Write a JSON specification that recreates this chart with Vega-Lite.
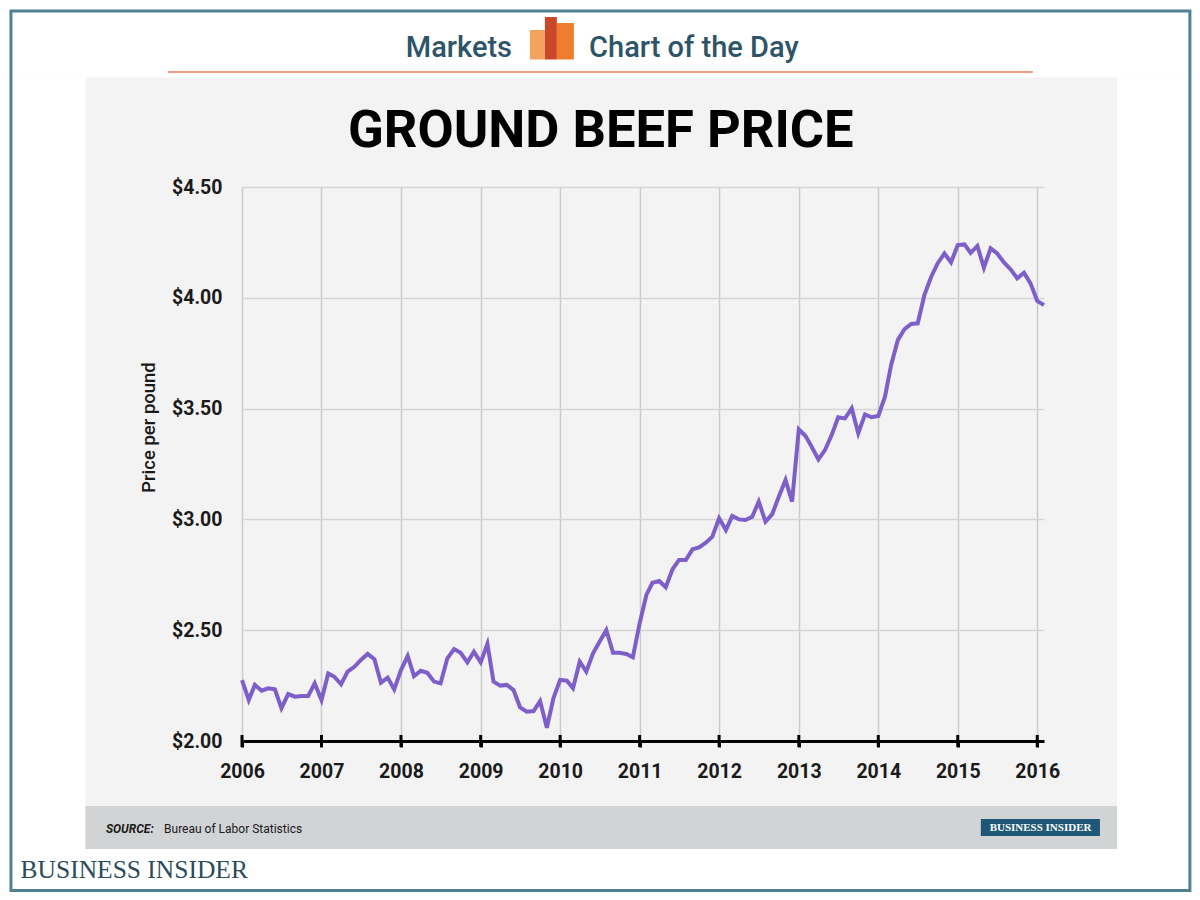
{
  "$schema": "https://vega.github.io/schema/vega-lite/v6.json",
  "width": 802,
  "height": 554,
  "autosize": {"type": "none"},
  "padding": {"left": 242, "top": 187, "right": 156, "bottom": 159},
  "background": "#f3f3f3",
  "config": {"view": {"stroke": null}},
  "datasets": {
    "beef": [
      {"date": "2006-01-01", "price": 2.275}, {"date": "2006-02-01", "price": 2.185}, {"date": "2006-03-01", "price": 2.253}, {"date": "2006-04-01", "price": 2.227}, {"date": "2006-05-01", "price": 2.238}, {"date": "2006-06-01", "price": 2.233}, {"date": "2006-07-01", "price": 2.148}, {"date": "2006-08-01", "price": 2.212}, {"date": "2006-09-01", "price": 2.2}, {"date": "2006-10-01", "price": 2.203}, {"date": "2006-11-01", "price": 2.203}, {"date": "2006-12-01", "price": 2.26},
      {"date": "2007-01-01", "price": 2.185}, {"date": "2007-02-01", "price": 2.305}, {"date": "2007-03-01", "price": 2.29}, {"date": "2007-04-01", "price": 2.256}, {"date": "2007-05-01", "price": 2.313}, {"date": "2007-06-01", "price": 2.335}, {"date": "2007-07-01", "price": 2.366}, {"date": "2007-08-01", "price": 2.393}, {"date": "2007-09-01", "price": 2.369}, {"date": "2007-10-01", "price": 2.263}, {"date": "2007-11-01", "price": 2.286}, {"date": "2007-12-01", "price": 2.233},
      {"date": "2008-01-01", "price": 2.32}, {"date": "2008-02-01", "price": 2.384}, {"date": "2008-03-01", "price": 2.293}, {"date": "2008-04-01", "price": 2.317}, {"date": "2008-05-01", "price": 2.308}, {"date": "2008-06-01", "price": 2.268}, {"date": "2008-07-01", "price": 2.26}, {"date": "2008-08-01", "price": 2.373}, {"date": "2008-09-01", "price": 2.415}, {"date": "2008-10-01", "price": 2.398}, {"date": "2008-11-01", "price": 2.355}, {"date": "2008-12-01", "price": 2.403},
      {"date": "2009-01-01", "price": 2.355}, {"date": "2009-02-01", "price": 2.438}, {"date": "2009-03-01", "price": 2.268}, {"date": "2009-04-01", "price": 2.25}, {"date": "2009-05-01", "price": 2.253}, {"date": "2009-06-01", "price": 2.23}, {"date": "2009-07-01", "price": 2.152}, {"date": "2009-08-01", "price": 2.132}, {"date": "2009-09-01", "price": 2.135}, {"date": "2009-10-01", "price": 2.18}, {"date": "2009-11-01", "price": 2.06}, {"date": "2009-12-01", "price": 2.193},
      {"date": "2010-01-01", "price": 2.276}, {"date": "2010-02-01", "price": 2.272}, {"date": "2010-03-01", "price": 2.238}, {"date": "2010-04-01", "price": 2.358}, {"date": "2010-05-01", "price": 2.313}, {"date": "2010-06-01", "price": 2.396}, {"date": "2010-07-01", "price": 2.448}, {"date": "2010-08-01", "price": 2.501}, {"date": "2010-09-01", "price": 2.398}, {"date": "2010-10-01", "price": 2.398}, {"date": "2010-11-01", "price": 2.393}, {"date": "2010-12-01", "price": 2.378},
      {"date": "2011-01-01", "price": 2.531}, {"date": "2011-02-01", "price": 2.659}, {"date": "2011-03-01", "price": 2.714}, {"date": "2011-04-01", "price": 2.722}, {"date": "2011-05-01", "price": 2.694}, {"date": "2011-06-01", "price": 2.775}, {"date": "2011-07-01", "price": 2.817}, {"date": "2011-08-01", "price": 2.817}, {"date": "2011-09-01", "price": 2.865}, {"date": "2011-10-01", "price": 2.874}, {"date": "2011-11-01", "price": 2.895}, {"date": "2011-12-01", "price": 2.922},
      {"date": "2012-01-01", "price": 3.005}, {"date": "2012-02-01", "price": 2.952}, {"date": "2012-03-01", "price": 3.015}, {"date": "2012-04-01", "price": 3.0}, {"date": "2012-05-01", "price": 2.997}, {"date": "2012-06-01", "price": 3.012}, {"date": "2012-07-01", "price": 3.08}, {"date": "2012-08-01", "price": 2.99}, {"date": "2012-09-01", "price": 3.024}, {"date": "2012-10-01", "price": 3.102}, {"date": "2012-11-01", "price": 3.178}, {"date": "2012-12-01", "price": 3.08},
      {"date": "2013-01-01", "price": 3.406}, {"date": "2013-02-01", "price": 3.376}, {"date": "2013-03-01", "price": 3.328}, {"date": "2013-04-01", "price": 3.271}, {"date": "2013-05-01", "price": 3.313}, {"date": "2013-06-01", "price": 3.381}, {"date": "2013-07-01", "price": 3.461}, {"date": "2013-08-01", "price": 3.456}, {"date": "2013-09-01", "price": 3.501}, {"date": "2013-10-01", "price": 3.389}, {"date": "2013-11-01", "price": 3.474}, {"date": "2013-12-01", "price": 3.461},
      {"date": "2014-01-01", "price": 3.467}, {"date": "2014-02-01", "price": 3.555}, {"date": "2014-03-01", "price": 3.697}, {"date": "2014-04-01", "price": 3.81}, {"date": "2014-05-01", "price": 3.858}, {"date": "2014-06-01", "price": 3.882}, {"date": "2014-07-01", "price": 3.885}, {"date": "2014-08-01", "price": 4.013}, {"date": "2014-09-01", "price": 4.095}, {"date": "2014-10-01", "price": 4.156}, {"date": "2014-11-01", "price": 4.2}, {"date": "2014-12-01", "price": 4.16},
      {"date": "2015-01-01", "price": 4.238}, {"date": "2015-02-01", "price": 4.241}, {"date": "2015-03-01", "price": 4.203}, {"date": "2015-04-01", "price": 4.234}, {"date": "2015-05-01", "price": 4.136}, {"date": "2015-06-01", "price": 4.223}, {"date": "2015-07-01", "price": 4.2}, {"date": "2015-08-01", "price": 4.16}, {"date": "2015-09-01", "price": 4.128}, {"date": "2015-10-01", "price": 4.088}, {"date": "2015-11-01", "price": 4.113}, {"date": "2015-12-01", "price": 4.065},
      {"date": "2016-01-01", "price": 3.986}, {"date": "2016-02-01", "price": 3.967}
    ],
    "years": [
      {"year": "2006-01-01"}, {"year": "2007-01-01"}, {"year": "2008-01-01"}, {"year": "2009-01-01"}, {"year": "2010-01-01"}, {"year": "2011-01-01"}, {"year": "2012-01-01"}, {"year": "2013-01-01"}, {"year": "2014-01-01"}, {"year": "2015-01-01"}, {"year": "2016-01-01"}
    ],
    "one": [{}]
  },
  "layer": [
    {
      "data": {"name": "one"},
      "mark": {"type": "rect", "color": "#ffffff"},
      "encoding": {
        "x": {"datum": {"year": 2002, "month": 1, "date": 1, "utc": true}, "type": "temporal"},
        "x2": {"datum": {"year": 2019, "month": 1, "date": 1, "utc": true}},
        "y": {"datum": 5.7, "type": "quantitative"},
        "y2": {"datum": 4.9941}
      }
    },
    {
      "data": {"name": "one"},
      "mark": {"type": "rect", "color": "#ffffff"},
      "encoding": {
        "x": {"datum": {"year": 2002, "month": 1, "date": 1, "utc": true}, "type": "temporal"},
        "x2": {"datum": {"year": 2019, "month": 1, "date": 1, "utc": true}},
        "y": {"datum": 1.5126, "type": "quantitative"},
        "y2": {"datum": 1.0}
      }
    },
    {
      "data": {"name": "one"},
      "mark": {"type": "rect", "color": "#ffffff"},
      "encoding": {
        "x": {"datum": {"year": 2002, "month": 1, "date": 1, "utc": true}, "type": "temporal"},
        "x2": {"datum": {"year": 2004, "month": 1, "date": 13, "utc": true}},
        "y": {"datum": 4.9941, "type": "quantitative"},
        "y2": {"datum": 1.5126}
      }
    },
    {
      "data": {"name": "one"},
      "mark": {"type": "rect", "color": "#ffffff"},
      "encoding": {
        "x": {"datum": {"year": 2017, "month": 1, "date": 1, "utc": true}, "type": "temporal"},
        "x2": {"datum": {"year": 2019, "month": 1, "date": 1, "utc": true}},
        "y": {"datum": 4.9941, "type": "quantitative"},
        "y2": {"datum": 1.5126}
      }
    },
    {
      "data": {"name": "one"},
      "mark": {"type": "rect", "color": "#d1d3d4"},
      "encoding": {
        "x": {"datum": {"year": 2004, "month": 1, "date": 13, "utc": true}, "type": "temporal"},
        "x2": {"datum": {"year": 2017, "month": 1, "date": 1, "utc": true}},
        "y": {"datum": 1.7067, "type": "quantitative"},
        "y2": {"datum": 1.5126}
      }
    },
    {
      "data": {"name": "one"},
      "mark": {"type": "rect", "filled": false, "stroke": "#517f94", "strokeWidth": 3},
      "encoding": {
        "x": {"datum": {"year": 2003, "month": 2, "date": 5, "utc": true}, "type": "temporal"},
        "x2": {"datum": {"year": 2017, "month": 12, "date": 2, "utc": true}},
        "y": {"datum": 5.2942, "type": "quantitative"},
        "y2": {"datum": 1.3254}
      }
    },
    {
      "data": {"name": "one"},
      "mark": {"type": "rule", "color": "#f19c80", "strokeWidth": 2},
      "encoding": {
        "x": {"datum": {"year": 2005, "month": 1, "date": 26, "utc": true}, "type": "temporal"},
        "x2": {"datum": {"year": 2015, "month": 12, "date": 12, "utc": true}},
        "y": {"datum": 5.019, "type": "quantitative"}
      }
    },
    {
      "data": {"name": "one"},
      "mark": {"type": "rect", "color": "#f3a35f"},
      "encoding": {
        "x": {"datum": {"year": 2009, "month": 8, "date": 15, "utc": true}, "type": "temporal"},
        "x2": {"datum": {"year": 2009, "month": 10, "date": 23, "utc": true}},
        "y": {"datum": 5.2085, "type": "quantitative"},
        "y2": {"datum": 5.0754}
      }
    },
    {
      "data": {"name": "one"},
      "mark": {"type": "rect", "color": "#c9482a"},
      "encoding": {
        "x": {"datum": {"year": 2009, "month": 10, "date": 23, "utc": true}, "type": "temporal"},
        "x2": {"datum": {"year": 2009, "month": 12, "date": 17, "utc": true}},
        "y": {"datum": 5.2671, "type": "quantitative"},
        "y2": {"datum": 5.0754}
      }
    },
    {
      "data": {"name": "one"},
      "mark": {"type": "rect", "color": "#ee7d2e"},
      "encoding": {
        "x": {"datum": {"year": 2009, "month": 12, "date": 17, "utc": true}, "type": "temporal"},
        "x2": {"datum": {"year": 2010, "month": 3, "date": 5, "utc": true}},
        "y": {"datum": 5.2401, "type": "quantitative"},
        "y2": {"datum": 5.0754}
      }
    },
    {
      "data": {"name": "one"},
      "mark": {"type": "text", "text": "Markets", "font": "Roboto", "fontWeight": 500, "fontSize": 29, "color": "#2d5468", "align": "center", "baseline": "alphabetic"},
      "encoding": {
        "x": {"datum": {"year": 2008, "month": 9, "date": 23, "utc": true}, "type": "temporal"},
        "y": {"datum": 5.0866, "type": "quantitative"}
      }
    },
    {
      "data": {"name": "one"},
      "mark": {"type": "text", "text": "Chart of the Day", "font": "Roboto", "fontWeight": 500, "fontSize": 29, "color": "#2d5468", "align": "center", "baseline": "alphabetic"},
      "encoding": {
        "x": {"datum": {"year": 2011, "month": 9, "date": 7, "utc": true}, "type": "temporal"},
        "y": {"datum": 5.0866, "type": "quantitative"}
      }
    },
    {
      "data": {"name": "one"},
      "mark": {"type": "text", "text": "GROUND BEEF PRICE", "font": "Roboto", "fontWeight": "bold", "fontSize": 52.5, "color": "#000000", "align": "center", "baseline": "alphabetic"},
      "encoding": {
        "x": {"datum": {"year": 2010, "month": 7, "date": 7, "utc": true}, "type": "temporal"},
        "y": {"datum": 4.6805, "type": "quantitative"}
      }
    },
    {
      "data": {"name": "one"},
      "mark": {"type": "text", "text": "SOURCE:", "font": "Roboto", "fontWeight": "bold", "fontStyle": "italic", "fontSize": 12, "color": "#1a1a1a", "align": "left", "baseline": "alphabetic"},
      "encoding": {
        "x": {"datum": {"year": 2004, "month": 4, "date": 16, "utc": true}, "type": "temporal"},
        "y": {"datum": 1.5848, "type": "quantitative"}
      }
    },
    {
      "data": {"name": "one"},
      "mark": {"type": "text", "text": "Bureau of Labor Statistics", "font": "Roboto", "fontSize": 12, "color": "#1a1a1a", "align": "left", "baseline": "alphabetic"},
      "encoding": {
        "x": {"datum": {"year": 2005, "month": 1, "date": 8, "utc": true}, "type": "temporal"},
        "y": {"datum": 1.5848, "type": "quantitative"}
      }
    },
    {
      "data": {"name": "one"},
      "mark": {"type": "rect", "color": "#1f5877"},
      "encoding": {
        "x": {"datum": {"year": 2015, "month": 4, "date": 17, "utc": true}, "type": "temporal"},
        "x2": {"datum": {"year": 2016, "month": 10, "date": 15, "utc": true}},
        "y": {"datum": 1.648, "type": "quantitative"},
        "y2": {"datum": 1.5713}
      }
    },
    {
      "data": {"name": "one"},
      "mark": {"type": "text", "text": "BUSINESS INSIDER", "font": "Liberation Serif", "fontWeight": "bold", "fontSize": 11, "color": "#ffffff", "align": "center", "baseline": "middle"},
      "encoding": {
        "x": {"datum": {"year": 2016, "month": 1, "date": 16, "utc": true}, "type": "temporal"},
        "y": {"datum": 1.6074, "type": "quantitative"}
      }
    },
    {
      "data": {"name": "one"},
      "mark": {"type": "text", "text": "BUSINESS INSIDER", "font": "Liberation Serif", "fontSize": 25.5, "color": "#2c4b5b", "align": "left", "baseline": "alphabetic"},
      "encoding": {
        "x": {"datum": {"year": 2003, "month": 3, "date": 21, "utc": true}, "type": "temporal"},
        "y": {"datum": 1.3831, "type": "quantitative"}
      }
    },
    {
      "data": {"name": "beef"},
      "mark": {"type": "line", "color": "#7e5ec9", "strokeWidth": 4},
      "encoding": {
        "x": {
          "field": "date",
          "type": "temporal",
          "scale": {"type": "utc", "domain": [{"year": 2006, "month": 1, "date": 1, "utc": true}, {"year": 2016, "month": 2, "date": 1, "utc": true}], "nice": false},
          "axis": {
            "title": null,
            "format": "%Y",
            "values": [{"year": 2006, "utc": true}, {"year": 2007, "utc": true}, {"year": 2008, "utc": true}, {"year": 2009, "utc": true}, {"year": 2010, "utc": true}, {"year": 2011, "utc": true}, {"year": 2012, "utc": true}, {"year": 2013, "utc": true}, {"year": 2014, "utc": true}, {"year": 2015, "utc": true}, {"year": 2016, "utc": true}],
            "grid": true,
            "gridColor": "#cbcbcb",
            "gridWidth": 1.5,
            "domain": true,
            "domainColor": "#000000",
            "domainWidth": 3,
            "ticks": true,
            "tickColor": "#000000",
            "tickWidth": 3,
            "tickSize": 6,
            "labelFont": "Roboto",
            "labelFontWeight": "bold",
            "labelFontSize": 19.5,
            "labelColor": "#1a1a1a",
            "labelPadding": 15,
            "labelFlush": false
          }
        },
        "y": {
          "field": "price",
          "type": "quantitative",
          "scale": {"domain": [2, 4.5], "nice": false, "zero": false},
          "axis": {
            "title": "Price per pound",
            "values": [2, 2.5, 3, 3.5, 4, 4.5],
            "format": "$.2f",
            "grid": true,
            "gridColor": "#d5d5d5",
            "gridWidth": 1.5,
            "domain": false,
            "ticks": false,
            "labelFont": "Roboto",
            "labelFontWeight": "bold",
            "labelFontSize": 19.5,
            "labelColor": "#1a1a1a",
            "labelPadding": 20,
            "titleFont": "Roboto",
            "titleFontWeight": 500,
            "titleFontSize": 18.5,
            "titleColor": "#1a1a1a",
            "titleX": -84,
            "titleY": 240,
            "titleBaseline": "bottom"
          }
        }
      }
    },
    {
      "data": {"name": "years"},
      "mark": {"type": "tick", "orient": "vertical", "color": "#000000", "size": 12, "thickness": 3, "opacity": 1},
      "encoding": {
        "x": {"field": "year", "type": "temporal"},
        "y": {"datum": 2, "type": "quantitative"}
      }
    }
  ]
}
